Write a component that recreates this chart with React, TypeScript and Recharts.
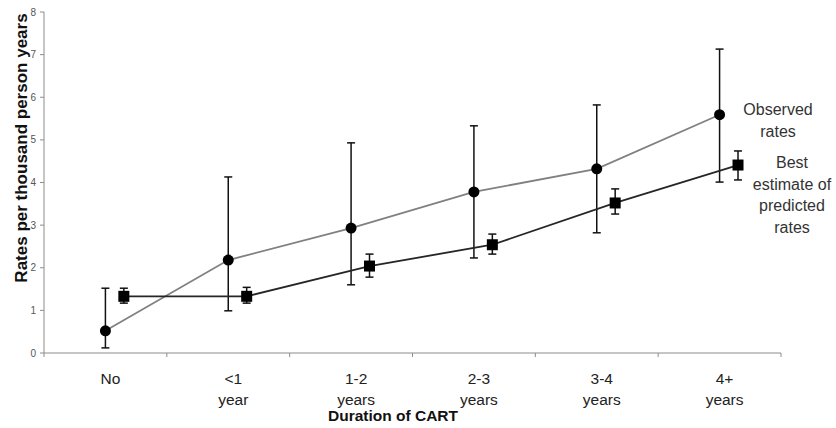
import React from 'react';
import { ComposedChart, Line, XAxis, YAxis, ErrorBar } from 'recharts';

const catLine1 = ['No', '<1', '1-2', '2-3', '3-4', '4+'];
const catLine2 = ['', 'year', 'years', 'years', 'years', 'years'];

const observed = [0.52, 2.18, 2.93, 3.78, 4.32, 5.59];
const observedLow = [0.12, 0.99, 1.6, 2.23, 2.82, 4.01];
const observedHigh = [1.52, 4.13, 4.93, 5.33, 5.82, 7.13];

const predicted = [1.33, 1.33, 2.04, 2.54, 3.52, 4.41];
const predictedLow = [1.17, 1.17, 1.78, 2.32, 3.26, 4.06];
const predictedHigh = [1.52, 1.54, 2.32, 2.79, 3.85, 4.74];

const yTicks = [0, 1, 2, 3, 4, 5, 6, 7, 8];

// predicted series sits a little to the right of the category centre
const PRED_SHIFT = 0.15;
const FONT = '"Liberation Sans", Arial, sans-serif';

const observedData = observed.map((v, i) => ({
    x: i + 0.5,
    y: v,
    err: [v - observedLow[i], observedHigh[i] - v],
}));

const predictedData = predicted.map((v, i) => ({
    x: i + 0.5 + PRED_SHIFT,
    y: v,
    err: [v - predictedLow[i], predictedHigh[i] - v],
}));

const xTicks: number[] = [];
for (let i = 0; i <= catLine1.length * 2; i++) xTicks.push(i / 2);

const CategoryTick = (props: any) => {
    const { x, y, payload } = props;
    const v = payload.value;
    if (Number.isInteger(v)) {
        return <line x1={x} y1={y - 4} x2={x} y2={y} stroke="#8c8c8c" strokeWidth={1} />;
    }
    const idx = Math.floor(v);
    return (
        <g>
            <text x={x + 5} y={y + 27} textAnchor="middle" fontSize={15.5} fill="#222" fontFamily={FONT}>{catLine1[idx]}</text>
            {catLine2[idx] && (
                <text x={x + 5} y={y + 48} textAnchor="middle" fontSize={15.5} fill="#222" fontFamily={FONT}>{catLine2[idx]}</text>
            )}
        </g>
    );
};

const SquareDot = (props: any) => {
    const { cx, cy, index } = props;
    if (cx == null || cy == null) return <g key={index} />;
    return <rect key={index} x={cx - 5.5} y={cy - 5.5} width={11} height={11} fill="#000" />;
};

const legendStyle: React.CSSProperties = {
    position: 'absolute',
    fontFamily: FONT,
    fontSize: 16,
    lineHeight: '21.5px',
    color: '#333',
    textAlign: 'center',
    width: 120,
};

export default function App() {
    return (
        <div style={{ position: 'absolute', left: 0, top: 0, width: 836, height: 428, background: '#fff' }}>
            <ComposedChart width={836} height={428} margin={{ top: 12, right: 55, left: 0, bottom: 0 }}>
                <XAxis
                    dataKey="x"
                    type="number"
                    domain={[0, 6]}
                    ticks={xTicks}
                    interval={0}
                    allowDataOverflow
                    tickSize={4}
                    tickMargin={0}
                    tickLine={false}
                    tick={<CategoryTick />}
                    axisLine={{ stroke: '#8c8c8c' }}
                    height={75}
                />
                <YAxis
                    type="number"
                    domain={[0, 8]}
                    ticks={yTicks}
                    interval={0}
                    width={44}
                    tickSize={4}
                    tickMargin={4}
                    axisLine={{ stroke: '#8c8c8c' }}
                    tickLine={{ stroke: '#8c8c8c' }}
                    tick={{ fontSize: 10, fill: '#555', fontFamily: FONT }}
                />
                <Line
                    data={observedData}
                    dataKey="y"
                    type="linear"
                    stroke="#808080"
                    strokeWidth={1.8}
                    dot={{ r: 5.5, fill: '#000', stroke: '#000', strokeWidth: 0 }}
                    isAnimationActive={false}
                >
                    <ErrorBar dataKey="err" direction="y" width={4} stroke="#111" strokeWidth={1.5} isAnimationActive={false} />
                </Line>
                <Line
                    data={predictedData}
                    dataKey="y"
                    type="linear"
                    stroke="#262626"
                    strokeWidth={1.8}
                    dot={SquareDot}
                    isAnimationActive={false}
                >
                    <ErrorBar dataKey="err" direction="y" width={4} stroke="#111" strokeWidth={1.5} isAnimationActive={false} />
                </Line>
            </ComposedChart>

            <div
                style={{
                    position: 'absolute',
                    left: 22,
                    top: 148,
                    transform: 'translate(-50%, -50%) rotate(-90deg)',
                    whiteSpace: 'nowrap',
                    fontFamily: FONT,
                    fontWeight: 'bold',
                    fontSize: 17,
                    color: '#111',
                }}
            >
                Rates per thousand person years
            </div>
            <div
                style={{
                    position: 'absolute',
                    left: 393,
                    top: 416,
                    transform: 'translate(-50%, -50%)',
                    whiteSpace: 'nowrap',
                    fontFamily: FONT,
                    fontWeight: 'bold',
                    fontSize: 15.5,
                    color: '#111',
                }}
            >
                Duration of CART
            </div>
            <div style={{ ...legendStyle, left: 718, top: 99 }}>
                Observed<br />rates
            </div>
            <div style={{ ...legendStyle, left: 732, top: 152 }}>
                Best<br />estimate of<br />predicted<br />rates
            </div>
        </div>
    );
}
